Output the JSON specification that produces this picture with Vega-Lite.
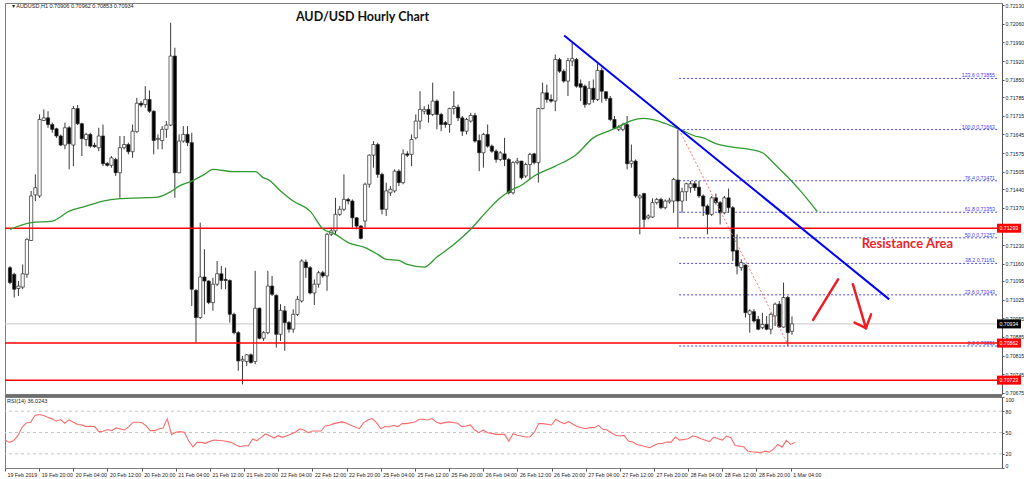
{
"$schema": "https://vega.github.io/schema/vega-lite/v6.json",
"padding": {"left": 2, "top": 2, "right": 0, "bottom": 0},
"background": "white",
"spacing": 3,
"bounds": "flush",
"config": {"view": {"stroke": "#7f7f7f", "strokeWidth": 1}, "font": "Liberation Sans",
 "axis": {"labelFont": "Liberation Sans", "labelColor": "#222222", "tickColor": "#555555", "domainColor": "#555555", "grid": false, "title": null}},
"datasets": {
"candles": [
{"i":0,"o":0.71145,"h":0.71151,"l":0.71083,"c":0.71089},
{"i":1,"o":0.71120,"h":0.71126,"l":0.71033,"c":0.71064},
{"i":2,"o":0.71067,"h":0.71095,"l":0.71039,"c":0.71076},
{"i":3,"o":0.71072,"h":0.71157,"l":0.71064,"c":0.71122},
{"i":4,"o":0.71120,"h":0.71255,"l":0.71107,"c":0.71251},
{"i":5,"o":0.71247,"h":0.71433,"l":0.71245,"c":0.71414},
{"i":6,"o":0.71418,"h":0.71495,"l":0.71395,"c":0.71445},
{"i":7,"o":0.71414,"h":0.71720,"l":0.71407,"c":0.71701},
{"i":8,"o":0.71697,"h":0.71739,"l":0.71695,"c":0.71707},
{"i":9,"o":0.71707,"h":0.71732,"l":0.71670,"c":0.71682},
{"i":10,"o":0.71682,"h":0.71689,"l":0.71651,"c":0.71664},
{"i":11,"o":0.71666,"h":0.71670,"l":0.71632,"c":0.71639},
{"i":12,"o":0.71639,"h":0.71645,"l":0.71601,"c":0.71605},
{"i":13,"o":0.71605,"h":0.71689,"l":0.71589,"c":0.71670},
{"i":14,"o":0.71670,"h":0.71676,"l":0.71514,"c":0.71610},
{"i":15,"o":0.71605,"h":0.71751,"l":0.71526,"c":0.71742},
{"i":16,"o":0.71742,"h":0.71755,"l":0.71680,"c":0.71685},
{"i":17,"o":0.71685,"h":0.71689,"l":0.71564,"c":0.71629},
{"i":18,"o":0.71626,"h":0.71651,"l":0.71601,"c":0.71645},
{"i":19,"o":0.71645,"h":0.71651,"l":0.71595,"c":0.71601},
{"i":20,"o":0.71604,"h":0.71614,"l":0.71595,"c":0.71599},
{"i":21,"o":0.71595,"h":0.71670,"l":0.71582,"c":0.71639},
{"i":22,"o":0.71639,"h":0.71682,"l":0.71526,"c":0.71535},
{"i":23,"o":0.71536,"h":0.71541,"l":0.71524,"c":0.71529},
{"i":24,"o":0.71529,"h":0.71564,"l":0.71520,"c":0.71557},
{"i":25,"o":0.71551,"h":0.71557,"l":0.71489,"c":0.71501},
{"i":26,"o":0.71501,"h":0.71639,"l":0.71407,"c":0.71595},
{"i":27,"o":0.71595,"h":0.71639,"l":0.71589,"c":0.71607},
{"i":28,"o":0.71607,"h":0.71614,"l":0.71570,"c":0.71580},
{"i":29,"o":0.71580,"h":0.71682,"l":0.71557,"c":0.71657},
{"i":30,"o":0.71655,"h":0.71782,"l":0.71651,"c":0.71762},
{"i":31,"o":0.71762,"h":0.71770,"l":0.71747,"c":0.71755},
{"i":32,"o":0.71757,"h":0.71826,"l":0.71745,"c":0.71776},
{"i":33,"o":0.71776,"h":0.71810,"l":0.71726,"c":0.71732},
{"i":34,"o":0.71732,"h":0.71735,"l":0.71570,"c":0.71622},
{"i":35,"o":0.71626,"h":0.71645,"l":0.71589,"c":0.71630},
{"i":36,"o":0.71622,"h":0.71676,"l":0.71589,"c":0.71664},
{"i":37,"o":0.71664,"h":0.71695,"l":0.71632,"c":0.71680},
{"i":38,"o":0.71680,"h":0.72064,"l":0.71676,"c":0.71939},
{"i":39,"o":0.71939,"h":0.71970,"l":0.71407,"c":0.71501},
{"i":40,"o":0.71501,"h":0.71645,"l":0.71499,"c":0.71620},
{"i":41,"o":0.71620,"h":0.71676,"l":0.71614,"c":0.71645},
{"i":42,"o":0.71645,"h":0.71676,"l":0.71601,"c":0.71614},
{"i":43,"o":0.71614,"h":0.71651,"l":0.71001,"c":0.71064},
{"i":44,"o":0.71060,"h":0.71064,"l":0.70864,"c":0.70958},
{"i":45,"o":0.70958,"h":0.71314,"l":0.70952,"c":0.71110},
{"i":46,"o":0.71110,"h":0.71214,"l":0.70970,"c":0.71095},
{"i":47,"o":0.71095,"h":0.71097,"l":0.71008,"c":0.71014},
{"i":48,"o":0.71014,"h":0.71107,"l":0.70983,"c":0.71083},
{"i":49,"o":0.71083,"h":0.71170,"l":0.71076,"c":0.71122},
{"i":50,"o":0.71122,"h":0.71151,"l":0.71064,"c":0.71097},
{"i":51,"o":0.71101,"h":0.71145,"l":0.71064,"c":0.71097},
{"i":52,"o":0.71097,"h":0.71101,"l":0.70939,"c":0.70970},
{"i":53,"o":0.70970,"h":0.70976,"l":0.70895,"c":0.70901},
{"i":54,"o":0.70901,"h":0.70907,"l":0.70758,"c":0.70795},
{"i":55,"o":0.70795,"h":0.70814,"l":0.70707,"c":0.70801},
{"i":56,"o":0.70793,"h":0.70820,"l":0.70776,"c":0.70818},
{"i":57,"o":0.70818,"h":0.70823,"l":0.70785,"c":0.70789},
{"i":58,"o":0.70793,"h":0.71133,"l":0.70783,"c":0.70993},
{"i":59,"o":0.70993,"h":0.70995,"l":0.70876,"c":0.70880},
{"i":60,"o":0.70880,"h":0.70907,"l":0.70870,"c":0.70901},
{"i":61,"o":0.70901,"h":0.71133,"l":0.70895,"c":0.71076},
{"i":62,"o":0.71076,"h":0.71114,"l":0.71039,"c":0.71045},
{"i":63,"o":0.71041,"h":0.71045,"l":0.70845,"c":0.70895},
{"i":64,"o":0.70895,"h":0.71008,"l":0.70870,"c":0.70985},
{"i":65,"o":0.70983,"h":0.71001,"l":0.70833,"c":0.70939},
{"i":66,"o":0.70939,"h":0.70945,"l":0.70901,"c":0.70914},
{"i":67,"o":0.70914,"h":0.70989,"l":0.70901,"c":0.70970},
{"i":68,"o":0.70970,"h":0.71039,"l":0.70964,"c":0.71026},
{"i":69,"o":0.71020,"h":0.71176,"l":0.71014,"c":0.71170},
{"i":70,"o":0.71166,"h":0.71176,"l":0.71107,"c":0.71145},
{"i":71,"o":0.71145,"h":0.71151,"l":0.71045,"c":0.71050},
{"i":72,"o":0.71050,"h":0.71101,"l":0.71005,"c":0.71083},
{"i":73,"o":0.71083,"h":0.71133,"l":0.71070,"c":0.71126},
{"i":74,"o":0.71126,"h":0.71133,"l":0.71107,"c":0.71114},
{"i":75,"o":0.71114,"h":0.71276,"l":0.71058,"c":0.71270},
{"i":76,"o":0.71270,"h":0.71295,"l":0.71264,"c":0.71283},
{"i":77,"o":0.71283,"h":0.71407,"l":0.71270,"c":0.71345},
{"i":78,"o":0.71345,"h":0.71376,"l":0.71339,"c":0.71364},
{"i":79,"o":0.71364,"h":0.71495,"l":0.71357,"c":0.71401},
{"i":80,"o":0.71401,"h":0.71407,"l":0.71382,"c":0.71395},
{"i":81,"o":0.71395,"h":0.71401,"l":0.71295,"c":0.71332},
{"i":82,"o":0.71332,"h":0.71335,"l":0.71289,"c":0.71301},
{"i":83,"o":0.71301,"h":0.71305,"l":0.71251,"c":0.71255},
{"i":84,"o":0.71320,"h":0.71464,"l":0.71295,"c":0.71458},
{"i":85,"o":0.71458,"h":0.71570,"l":0.71445,"c":0.71567},
{"i":86,"o":0.71567,"h":0.71620,"l":0.71520,"c":0.71607},
{"i":87,"o":0.71607,"h":0.71614,"l":0.71482,"c":0.71495},
{"i":88,"o":0.71495,"h":0.71501,"l":0.71345,"c":0.71364},
{"i":89,"o":0.71364,"h":0.71464,"l":0.71339,"c":0.71433},
{"i":90,"o":0.71426,"h":0.71451,"l":0.71414,"c":0.71439},
{"i":91,"o":0.71433,"h":0.71514,"l":0.71426,"c":0.71507},
{"i":92,"o":0.71507,"h":0.71514,"l":0.71451,"c":0.71464},
{"i":93,"o":0.71464,"h":0.71589,"l":0.71458,"c":0.71572},
{"i":94,"o":0.71572,"h":0.71582,"l":0.71560,"c":0.71567},
{"i":95,"o":0.71570,"h":0.71645,"l":0.71526,"c":0.71626},
{"i":96,"o":0.71632,"h":0.71720,"l":0.71626,"c":0.71695},
{"i":97,"o":0.71695,"h":0.71807,"l":0.71664,"c":0.71739},
{"i":98,"o":0.71732,"h":0.71751,"l":0.71720,"c":0.71739},
{"i":99,"o":0.71739,"h":0.71757,"l":0.71689,"c":0.71720},
{"i":100,"o":0.71720,"h":0.71839,"l":0.71714,"c":0.71770},
{"i":101,"o":0.71770,"h":0.71776,"l":0.71664,"c":0.71720},
{"i":102,"o":0.71720,"h":0.71726,"l":0.71657,"c":0.71682},
{"i":103,"o":0.71689,"h":0.71695,"l":0.71670,"c":0.71682},
{"i":104,"o":0.71682,"h":0.71745,"l":0.71651,"c":0.71742},
{"i":105,"o":0.71742,"h":0.71807,"l":0.71720,"c":0.71750},
{"i":106,"o":0.71747,"h":0.71757,"l":0.71695,"c":0.71707},
{"i":107,"o":0.71707,"h":0.71714,"l":0.71639,"c":0.71657},
{"i":108,"o":0.71657,"h":0.71707,"l":0.71645,"c":0.71701},
{"i":109,"o":0.71695,"h":0.71726,"l":0.71689,"c":0.71716},
{"i":110,"o":0.71716,"h":0.71726,"l":0.71614,"c":0.71620},
{"i":111,"o":0.71622,"h":0.71645,"l":0.71507,"c":0.71576},
{"i":112,"o":0.71576,"h":0.71651,"l":0.71520,"c":0.71645},
{"i":113,"o":0.71645,"h":0.71682,"l":0.71595,"c":0.71601},
{"i":114,"o":0.71601,"h":0.71607,"l":0.71576,"c":0.71582},
{"i":115,"o":0.71582,"h":0.71589,"l":0.71539,"c":0.71551},
{"i":116,"o":0.71551,"h":0.71582,"l":0.71545,"c":0.71576},
{"i":117,"o":0.71572,"h":0.71632,"l":0.71526,"c":0.71551},
{"i":118,"o":0.71551,"h":0.71557,"l":0.71420,"c":0.71426},
{"i":119,"o":0.71426,"h":0.71545,"l":0.71420,"c":0.71539},
{"i":120,"o":0.71539,"h":0.71557,"l":0.71532,"c":0.71545},
{"i":121,"o":0.71545,"h":0.71545,"l":0.71476,"c":0.71482},
{"i":122,"o":0.71489,"h":0.71539,"l":0.71482,"c":0.71532},
{"i":123,"o":0.71532,"h":0.71576,"l":0.71476,"c":0.71570},
{"i":124,"o":0.71572,"h":0.71576,"l":0.71532,"c":0.71539},
{"i":125,"o":0.71539,"h":0.71745,"l":0.71464,"c":0.71742},
{"i":126,"o":0.71742,"h":0.71839,"l":0.71739,"c":0.71801},
{"i":127,"o":0.71801,"h":0.71832,"l":0.71764,"c":0.71776},
{"i":128,"o":0.71776,"h":0.71795,"l":0.71764,"c":0.71770},
{"i":129,"o":0.71770,"h":0.71945,"l":0.71732,"c":0.71926},
{"i":130,"o":0.71926,"h":0.71932,"l":0.71876,"c":0.71882},
{"i":131,"o":0.71882,"h":0.71889,"l":0.71839,"c":0.71845},
{"i":132,"o":0.71845,"h":0.71932,"l":0.71789,"c":0.71922},
{"i":133,"o":0.71920,"h":0.71989,"l":0.71901,"c":0.71930},
{"i":134,"o":0.71926,"h":0.71932,"l":0.71820,"c":0.71826},
{"i":135,"o":0.71835,"h":0.71851,"l":0.71770,"c":0.71822},
{"i":136,"o":0.71826,"h":0.71832,"l":0.71745,"c":0.71757},
{"i":137,"o":0.71760,"h":0.71845,"l":0.71755,"c":0.71818},
{"i":138,"o":0.71818,"h":0.71851,"l":0.71764,"c":0.71776},
{"i":139,"o":0.71776,"h":0.71910,"l":0.71770,"c":0.71885},
{"i":140,"o":0.71885,"h":0.71895,"l":0.71764,"c":0.71807},
{"i":141,"o":0.71805,"h":0.71807,"l":0.71770,"c":0.71780},
{"i":142,"o":0.71780,"h":0.71789,"l":0.71695,"c":0.71701},
{"i":143,"o":0.71701,"h":0.71714,"l":0.71664,"c":0.71667},
{"i":144,"o":0.71664,"h":0.71680,"l":0.71657,"c":0.71672},
{"i":145,"o":0.71664,"h":0.71689,"l":0.71657,"c":0.71682},
{"i":146,"o":0.71682,"h":0.71714,"l":0.71514,"c":0.71535},
{"i":147,"o":0.71535,"h":0.71607,"l":0.71520,"c":0.71545},
{"i":148,"o":0.71545,"h":0.71551,"l":0.71407,"c":0.71414},
{"i":149,"o":0.71407,"h":0.71420,"l":0.71270,"c":0.71414},
{"i":150,"o":0.71423,"h":0.71426,"l":0.71295,"c":0.71326},
{"i":151,"o":0.71332,"h":0.71345,"l":0.71326,"c":0.71339},
{"i":152,"o":0.71335,"h":0.71405,"l":0.71332,"c":0.71389},
{"i":153,"o":0.71389,"h":0.71407,"l":0.71382,"c":0.71401},
{"i":154,"o":0.71401,"h":0.71407,"l":0.71364,"c":0.71370},
{"i":155,"o":0.71370,"h":0.71401,"l":0.71364,"c":0.71395},
{"i":156,"o":0.71392,"h":0.71407,"l":0.71385,"c":0.71398},
{"i":157,"o":0.71395,"h":0.71482,"l":0.71351,"c":0.71476},
{"i":158,"o":0.71474,"h":0.71663,"l":0.71295,"c":0.71395},
{"i":159,"o":0.71395,"h":0.71445,"l":0.71351,"c":0.71430},
{"i":160,"o":0.71430,"h":0.71464,"l":0.71395,"c":0.71460},
{"i":161,"o":0.71445,"h":0.71470,"l":0.71426,"c":0.71460},
{"i":162,"o":0.71460,"h":0.71470,"l":0.71433,"c":0.71445},
{"i":163,"o":0.71447,"h":0.71470,"l":0.71407,"c":0.71414},
{"i":164,"o":0.71414,"h":0.71420,"l":0.71339,"c":0.71376},
{"i":165,"o":0.71376,"h":0.71382,"l":0.71270,"c":0.71345},
{"i":166,"o":0.71345,"h":0.71414,"l":0.71339,"c":0.71407},
{"i":167,"o":0.71407,"h":0.71423,"l":0.71382,"c":0.71389},
{"i":168,"o":0.71389,"h":0.71395,"l":0.71307,"c":0.71351},
{"i":169,"o":0.71351,"h":0.71414,"l":0.71345,"c":0.71407},
{"i":170,"o":0.71407,"h":0.71442,"l":0.71351,"c":0.71370},
{"i":171,"o":0.71370,"h":0.71376,"l":0.71170,"c":0.71207},
{"i":172,"o":0.71210,"h":0.71270,"l":0.71120,"c":0.71151},
{"i":173,"o":0.71145,"h":0.71176,"l":0.71133,"c":0.71164},
{"i":174,"o":0.71155,"h":0.71157,"l":0.70958,"c":0.70976},
{"i":175,"o":0.70970,"h":0.70989,"l":0.70901,"c":0.70983},
{"i":176,"o":0.70980,"h":0.70989,"l":0.70939,"c":0.70945},
{"i":177,"o":0.70951,"h":0.70964,"l":0.70910,"c":0.70914},
{"i":178,"o":0.70920,"h":0.70976,"l":0.70914,"c":0.70932},
{"i":179,"o":0.70932,"h":0.70964,"l":0.70910,"c":0.70914},
{"i":180,"o":0.70914,"h":0.70976,"l":0.70895,"c":0.70970},
{"i":181,"o":0.70964,"h":0.71014,"l":0.70926,"c":0.71008},
{"i":182,"o":0.71008,"h":0.71020,"l":0.70920,"c":0.70922},
{"i":183,"o":0.70922,"h":0.71089,"l":0.70920,"c":0.71033},
{"i":184,"o":0.71033,"h":0.71039,"l":0.70851,"c":0.70901},
{"i":185,"o":0.70906,"h":0.70962,"l":0.70893,"c":0.70934}
],
"ma": [
{"i":0,"v":0.71289},{"i":5,"v":0.71314},{"i":10,"v":0.71320},{"i":14,"v":0.71357},{"i":18,"v":0.71376},{"i":22,"v":0.71395},{"i":26,"v":0.71404},{"i":31,"v":0.71407},{"i":35,"v":0.71410},{"i":38,"v":0.71430},{"i":40,"v":0.71451},{"i":43,"v":0.71470},{"i":46,"v":0.71495},{"i":48,"v":0.71514},{"i":53,"v":0.71505},{"i":58,"v":0.71505},{"i":60,"v":0.71482},{"i":61,"v":0.71476},{"i":64,"v":0.71433},{"i":67,"v":0.71395},{"i":71,"v":0.71357},{"i":74,"v":0.71291},{"i":77,"v":0.71270},{"i":80,"v":0.71239},{"i":84,"v":0.71220},{"i":87,"v":0.71195},{"i":89,"v":0.71176},{"i":92,"v":0.71172},{"i":94,"v":0.71157},{"i":98,"v":0.71147},{"i":101,"v":0.71185},{"i":105,"v":0.71232},{"i":109,"v":0.71289},{"i":113,"v":0.71360},{"i":116,"v":0.71407},{"i":119,"v":0.71439},{"i":121,"v":0.71454},{"i":124,"v":0.71489},{"i":129,"v":0.71526},{"i":134,"v":0.71570},{"i":138,"v":0.71632},{"i":142,"v":0.71660},{"i":145,"v":0.71682},{"i":147,"v":0.71697},{"i":150,"v":0.71705},{"i":153,"v":0.71697},{"i":156,"v":0.71680},{"i":159,"v":0.71660},{"i":162,"v":0.71639},{"i":164,"v":0.71632},{"i":167,"v":0.71610},{"i":171,"v":0.71597},{"i":175,"v":0.71589},{"i":178,"v":0.71576},{"i":179,"v":0.71564},{"i":181,"v":0.71532},{"i":184,"v":0.71485},{"i":187,"v":0.71433},{"i":191,"v":0.71355}
],
"rsi": [
{"i":0,"v":39.4},{"i":1,"v":36.1},{"i":2,"v":38.4},{"i":3,"v":45.5},{"i":4,"v":57.4},{"i":5,"v":63.5},{"i":6,"v":64.5},{"i":7,"v":73.9},{"i":8,"v":75.3},{"i":9,"v":73.9},{"i":10,"v":71.6},{"i":11,"v":69.2},{"i":12,"v":65.9},{"i":13,"v":68.2},{"i":14,"v":63.0},{"i":15,"v":67.8},{"i":16,"v":64.5},{"i":17,"v":61.2},{"i":18,"v":60.7},{"i":19,"v":58.3},{"i":20,"v":58.8},{"i":21,"v":58.3},{"i":22,"v":51.2},{"i":23,"v":51.7},{"i":24,"v":54.1},{"i":25,"v":52.6},{"i":26,"v":56.4},{"i":28,"v":53.6},{"i":29,"v":58.3},{"i":30,"v":64.5},{"i":31,"v":64.5},{"i":32,"v":64.0},{"i":33,"v":59.7},{"i":34,"v":52.6},{"i":35,"v":52.6},{"i":36,"v":55.0},{"i":37,"v":56.4},{"i":38,"v":69.2},{"i":39,"v":47.0},{"i":40,"v":50.3},{"i":41,"v":51.2},{"i":42,"v":50.3},{"i":43,"v":38.4},{"i":44,"v":29.9},{"i":45,"v":36.1},{"i":46,"v":36.1},{"i":47,"v":34.7},{"i":48,"v":37.5},{"i":49,"v":39.4},{"i":51,"v":38.4},{"i":53,"v":36.1},{"i":54,"v":32.8},{"i":55,"v":29.9},{"i":56,"v":31.4},{"i":57,"v":31.4},{"i":58,"v":40.8},{"i":59,"v":38.4},{"i":60,"v":43.2},{"i":61,"v":47.9},{"i":62,"v":45.5},{"i":63,"v":42.2},{"i":64,"v":45.5},{"i":65,"v":43.2},{"i":66,"v":45.5},{"i":67,"v":47.9},{"i":68,"v":50.3},{"i":69,"v":55.2},{"i":70,"v":53.5},{"i":71,"v":49.7},{"i":72,"v":52.1},{"i":74,"v":52.1},{"i":75,"v":59.2},{"i":76,"v":60.1},{"i":77,"v":62.5},{"i":79,"v":64.9},{"i":80,"v":63.0},{"i":81,"v":60.1},{"i":83,"v":55.4},{"i":84,"v":63.9},{"i":85,"v":67.7},{"i":86,"v":69.6},{"i":87,"v":63.9},{"i":88,"v":55.4},{"i":89,"v":58.3},{"i":90,"v":57.8},{"i":91,"v":60.1},{"i":92,"v":58.3},{"i":93,"v":62.5},{"i":94,"v":62.5},{"i":96,"v":64.9},{"i":97,"v":68.7},{"i":98,"v":68.7},{"i":99,"v":67.7},{"i":100,"v":69.6},{"i":101,"v":64.9},{"i":102,"v":62.5},{"i":103,"v":63.9},{"i":104,"v":64.9},{"i":106,"v":63.0},{"i":107,"v":58.3},{"i":108,"v":59.2},{"i":109,"v":60.6},{"i":110,"v":53.5},{"i":111,"v":49.7},{"i":112,"v":53.5},{"i":113,"v":49.7},{"i":114,"v":48.8},{"i":115,"v":47.4},{"i":117,"v":47.4},{"i":118,"v":37.9},{"i":119,"v":48.3},{"i":120,"v":46.0},{"i":122,"v":43.6},{"i":123,"v":44.1},{"i":124,"v":50.7},{"i":125,"v":62.5},{"i":126,"v":62.5},{"i":128,"v":60.6},{"i":129,"v":68.7},{"i":130,"v":64.9},{"i":131,"v":62.5},{"i":132,"v":65.3},{"i":133,"v":61.6},{"i":134,"v":58.3},{"i":135,"v":56.8},{"i":136,"v":55.4},{"i":137,"v":56.8},{"i":138,"v":56.8},{"i":139,"v":60.1},{"i":140,"v":54.5},{"i":141,"v":53.5},{"i":142,"v":49.7},{"i":143,"v":46.0},{"i":144,"v":45.0},{"i":145,"v":46.0},{"i":146,"v":37.9},{"i":147,"v":36.5},{"i":148,"v":33.2},{"i":149,"v":31.8},{"i":151,"v":28.5},{"i":152,"v":31.8},{"i":153,"v":34.6},{"i":154,"v":34.6},{"i":155,"v":36.5},{"i":156,"v":36.5},{"i":157,"v":43.6},{"i":158,"v":39.3},{"i":160,"v":41.2},{"i":161,"v":45.0},{"i":162,"v":44.1},{"i":163,"v":41.2},{"i":165,"v":37.0},{"i":166,"v":43.6},{"i":167,"v":41.2},{"i":168,"v":39.3},{"i":169,"v":45.0},{"i":170,"v":42.6},{"i":171,"v":31.8},{"i":173,"v":29.9},{"i":174,"v":23.7},{"i":175,"v":22.8},{"i":176,"v":22.3},{"i":177,"v":21.4},{"i":178,"v":23.7},{"i":179,"v":22.3},{"i":180,"v":27.0},{"i":181,"v":33.2},{"i":182,"v":29.4},{"i":183,"v":38.9},{"i":184,"v":33.2},{"i":185,"v":36.02}
],
"fib": [
{"t":"123.6 0.71855","p":0.71855},{"t":"100.0 0.71663","p":0.71663},{"t":"76.4 0.71471","p":0.71471},{"t":"61.8 0.71353","p":0.71353},{"t":"50.0 0.71257","p":0.71257},{"t":"38.2 0.71161","p":0.71161},{"t":"23.6 0.71043","p":0.71043},{"t":"0.0 0.70851","p":0.70851}
],
"levels": [{"p":0.71293},{"p":0.70862},{"p":0.70723}],
"current": [{"p":0.70934}]
},
"vconcat": [
{
"width": 997,
"height": 391,
"encoding": {
 "y": {"field": "p", "type": "quantitative", "scale": {"domain": [0.70671, 0.72138], "nice": false, "zero": false},
   "axis": {"orient": "right", "format": ".5f",
    "values": [0.72130,0.72060,0.71990,0.71920,0.71850,0.71785,0.71715,0.71645,0.71575,0.71505,0.71440,0.71370,0.71230,0.71160,0.71095,0.71025,0.70955,0.70885,0.70815,0.70745,0.70675],
    "labelFontSize": 5.2, "tickSize": 2, "labelPadding": 1, "labelOverlap": false, "labelFlush": false}}
},
"layer": [
{"data": {"name": "current"},
 "mark": {"type": "rule", "color": "#c8c8c8", "strokeWidth": 1},
 "encoding": {}},
{"data": {"name": "fib"},
 "mark": {"type": "rule", "color": "#4646ff", "strokeDash": [2, 2], "strokeWidth": 1},
 "encoding": {
  "x": {"datum": 158.3, "type": "quantitative", "scale": {"domain": [0, 233.5], "nice": false, "zero": false}, "axis": null},
  "x2": {"datum": 233.5}
 }},
{"data": {"name": "fib"},
 "mark": {"type": "text", "align": "right", "baseline": "bottom", "dx": -2, "dy": 0, "fontSize": 5.2, "font": "Liberation Sans", "color": "#3c3cff"},
 "encoding": {
  "x": {"datum": 233.5, "type": "quantitative", "scale": {"domain": [0, 233.5], "nice": false, "zero": false}, "axis": null},
  "text": {"field": "t"}
 }},
{"data": {"name": "candles"},
 "mark": {"type": "rule", "color": "#3a3a3a", "strokeWidth": 1},
 "encoding": {
  "x": {"field": "i", "type": "quantitative", "scale": {"domain": [0, 233.5], "nice": false, "zero": false}, "axis": null},
  "y": {"field": "l", "type": "quantitative"},
  "y2": {"field": "h"}
 }},
{"data": {"name": "candles"},
 "mark": {"type": "bar", "orient": "vertical", "width": 3.2, "stroke": "#2a2a2a", "strokeWidth": 0.7},
 "encoding": {
  "x": {"field": "i", "type": "quantitative", "scale": {"domain": [0, 233.5], "nice": false, "zero": false}, "axis": null},
  "y": {"field": "o", "type": "quantitative"},
  "y2": {"field": "c"},
  "fill": {"condition": {"test": "datum.c >= datum.o", "value": "#ffffff"}, "value": "#000000"}
 }},
{"data": {"name": "levels"},
 "mark": {"type": "rule", "color": "#ff0000", "strokeWidth": 1.5},
 "encoding": {}},
{"data": {"name": "ma"},
 "mark": {"type": "line", "color": "#2f9a2f", "strokeWidth": 1.3, "interpolate": "monotone"},
 "encoding": {
  "x": {"field": "i", "type": "quantitative", "scale": {"domain": [0, 233.5], "nice": false, "zero": false}, "axis": null},
  "y": {"field": "v", "type": "quantitative"}
 }},
{"data": {"values": [{"i": 131.1, "p": 0.72016}, {"i": 208, "p": 0.71026}]},
 "mark": {"type": "line", "color": "#0000ff", "strokeWidth": 2},
 "encoding": {
  "x": {"field": "i", "type": "quantitative", "scale": {"domain": [0, 233.5], "nice": false, "zero": false}, "axis": null}
 }},
{"data": {"values": [{"i": 158.3, "p": 0.71663}, {"i": 184.2, "p": 0.70851}]},
 "mark": {"type": "line", "color": "#ff7070", "strokeWidth": 1, "strokeDash": [2, 2]},
 "encoding": {
  "x": {"field": "i", "type": "quantitative", "scale": {"domain": [0, 233.5], "nice": false, "zero": false}, "axis": null}
 }},
{"data": {"values": [
  {"i": 190.0, "p": 0.70949, "i2": 195.9, "p2": 0.71101},
  {"i": 199.4, "p": 0.71083, "i2": 202.5, "p2": 0.70918},
  {"i": 199.8, "p": 0.70939, "i2": 202.5, "p2": 0.70918},
  {"i": 203.7, "p": 0.70970, "i2": 202.5, "p2": 0.70918}
 ]},
 "mark": {"type": "rule", "color": "#ee1c24", "strokeWidth": 2.5, "strokeCap": "round"},
 "encoding": {
  "x": {"field": "i", "type": "quantitative", "scale": {"domain": [0, 233.5], "nice": false, "zero": false}, "axis": null},
  "x2": {"field": "i2"},
  "y2": {"field": "p2"}
 }},
{"data": {"values": [{"i": 83.4, "p": 0.72085, "t": "AUD/USD Hourly Chart"}]},
 "mark": {"type": "text", "font": "Lato", "fontWeight": "bold", "fontSize": 12.5, "color": "#111111", "align": "center", "baseline": "middle"},
 "encoding": {
  "x": {"field": "i", "type": "quantitative", "scale": {"domain": [0, 233.5], "nice": false, "zero": false}, "axis": null},
  "text": {"field": "t"}}},
{"data": {"values": [{"i": 212.3, "p": 0.71234, "t": "Resistance Area"}]},
 "mark": {"type": "text", "font": "Lato", "fontWeight": "bold", "fontSize": 13, "color": "#e8262b", "align": "center", "baseline": "middle"},
 "encoding": {
  "x": {"field": "i", "type": "quantitative", "scale": {"domain": [0, 233.5], "nice": false, "zero": false}, "axis": null},
  "text": {"field": "t"}}},
{"data": {"values": [{"i": 0, "p": 0.72128, "t": "▾ AUDUSD,H1  0.70906 0.70962 0.70853 0.70934"}]},
 "mark": {"type": "text", "font": "Liberation Sans", "fontSize": 5.5, "color": "#222222", "align": "left", "baseline": "middle", "dx": 2},
 "encoding": {
  "x": {"field": "i", "type": "quantitative", "scale": {"domain": [0, 233.5], "nice": false, "zero": false}, "axis": null},
  "text": {"field": "t"}}},
{"data": {"name": "levels"},
 "mark": {"type": "rect", "color": "#ff0000", "x2Offset": 24, "yOffset": -4.5, "y2Offset": 4.5, "clip": false},
 "encoding": {
  "x": {"datum": 233.5, "type": "quantitative", "scale": {"domain": [0, 233.5], "nice": false, "zero": false}, "axis": null},
  "x2": {"datum": 233.5},
  "y2": {"field": "p"}
 }},
{"data": {"name": "current"},
 "mark": {"type": "rect", "color": "#000000", "x2Offset": 24, "yOffset": -4.5, "y2Offset": 4.5, "clip": false},
 "encoding": {
  "x": {"datum": 233.5, "type": "quantitative", "scale": {"domain": [0, 233.5], "nice": false, "zero": false}, "axis": null},
  "x2": {"datum": 233.5},
  "y2": {"field": "p"}
 }},
{"data": {"name": "levels"},
 "mark": {"type": "text", "color": "#ffffff", "font": "Liberation Sans", "fontSize": 5.2, "align": "left", "baseline": "middle", "dx": 2.5},
 "encoding": {
  "x": {"datum": 233.5, "type": "quantitative", "scale": {"domain": [0, 233.5], "nice": false, "zero": false}, "axis": null},
  "text": {"field": "p", "type": "quantitative", "format": ".5f"}
 }},
{"data": {"name": "current"},
 "mark": {"type": "text", "color": "#ffffff", "font": "Liberation Sans", "fontSize": 5.2, "align": "left", "baseline": "middle", "dx": 2.5},
 "encoding": {
  "x": {"datum": 233.5, "type": "quantitative", "scale": {"domain": [0, 233.5], "nice": false, "zero": false}, "axis": null},
  "text": {"field": "p", "type": "quantitative", "format": ".5f"}
 }},
{"data": {"values": [{"p": 0.70671}]},
 "mark": {"type": "rule", "color": "#6e6e6e", "strokeWidth": 3, "yOffset": 2},
 "encoding": {}}
]
},
{
"width": 997,
"height": 71,
"encoding": {
 "y": {"field": "v", "type": "quantitative", "scale": {"domain": [0, 100], "nice": false, "zero": false},
   "axis": {"orient": "right", "values": [0, 20, 50, 80, 100], "labelFontSize": 5.2, "tickSize": 2, "labelPadding": 1, "labelFlush": true, "labelOverlap": false}}
},
"layer": [
{"data": {"values": [{"v": 80}, {"v": 50}, {"v": 20}]},
 "mark": {"type": "rule", "color": "#c4c4c4", "strokeDash": [3, 3], "strokeWidth": 1},
 "encoding": {}},
{"data": {"name": "rsi"},
 "mark": {"type": "line", "color": "#ff6b6b", "strokeWidth": 1.1},
 "encoding": {
  "x": {"field": "i", "type": "quantitative", "scale": {"domain": [0, 233.5], "nice": false, "zero": false},
   "axis": {"orient": "bottom", "domain": false,
    "values": [0,8,16,24,32,40,48,56,64,72,80,88,96,104,112,120,128,136,144,152,160,168,176,184],
    "labelExpr": "['19 Feb 2019','19 Feb 20:00','20 Feb 04:00','20 Feb 12:00','20 Feb 20:00','21 Feb 04:00','21 Feb 12:00','21 Feb 20:00','22 Feb 04:00','22 Feb 12:00','22 Feb 20:00','25 Feb 04:00','25 Feb 12:00','25 Feb 20:00','26 Feb 04:00','26 Feb 12:00','26 Feb 20:00','27 Feb 04:00','27 Feb 12:00','27 Feb 20:00','28 Feb 04:00','28 Feb 12:00','28 Feb 20:00','1 Mar 04:00'][datum.value / 8]",
    "labelAlign": "left", "labelBaseline": "top", "labelOffset": 2, "labelPadding": 1,
    "labelFontSize": 5.3, "tickSize": 3, "labelOverlap": false, "labelFlush": false, "labelBound": false}}
 }},
{"data": {"values": [{"v": 95, "t": "RSI(14) 36.0243"}]},
 "mark": {"type": "text", "font": "Liberation Sans", "fontSize": 5.5, "color": "#222222", "align": "left", "baseline": "middle", "dx": 2},
 "encoding": {
  "x": {"datum": 0, "type": "quantitative", "scale": {"domain": [0, 233.5], "nice": false, "zero": false},
   "axis": {"orient": "bottom", "domain": false,
    "values": [0,8,16,24,32,40,48,56,64,72,80,88,96,104,112,120,128,136,144,152,160,168,176,184],
    "labelExpr": "['19 Feb 2019','19 Feb 20:00','20 Feb 04:00','20 Feb 12:00','20 Feb 20:00','21 Feb 04:00','21 Feb 12:00','21 Feb 20:00','22 Feb 04:00','22 Feb 12:00','22 Feb 20:00','25 Feb 04:00','25 Feb 12:00','25 Feb 20:00','26 Feb 04:00','26 Feb 12:00','26 Feb 20:00','27 Feb 04:00','27 Feb 12:00','27 Feb 20:00','28 Feb 04:00','28 Feb 12:00','28 Feb 20:00','1 Mar 04:00'][datum.value / 8]",
    "labelAlign": "left", "labelBaseline": "top", "labelOffset": 2, "labelPadding": 1,
    "labelFontSize": 5.3, "tickSize": 3, "labelOverlap": false, "labelFlush": false, "labelBound": false}},
  "text": {"field": "t"}
 }}
]
}
]
}
